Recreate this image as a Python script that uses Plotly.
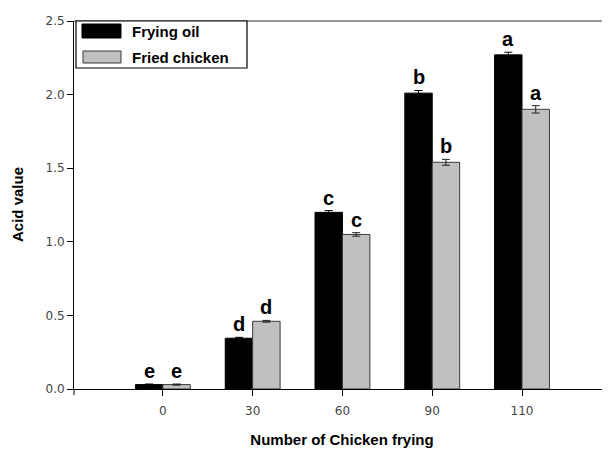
import plotly.graph_objects as go

categories = ["0", "30", "60", "90", "110"]
frying_oil = [0.03, 0.345, 1.20, 2.01, 2.27]
frying_oil_err = [0.004, 0.006, 0.012, 0.018, 0.018]
fried_chicken = [0.03, 0.46, 1.05, 1.54, 1.90]
fried_chicken_err = [0.004, 0.006, 0.012, 0.02, 0.025]
oil_letters = ["e", "d", "c", "b", "a"]
chicken_letters = ["e", "d", "c", "b", "a"]
y_ticks = [0.0, 0.5, 1.0, 1.5, 2.0, 2.5]
y_tick_labels = ["0.0", "0.5", "1.0", "1.5", "2.0", "2.5"]

# page body has an 8px margin; compensate so the plot area lands at page x 74..610, y 21..389
OFF = 8
W, H = 610 - OFF, 450 - OFF
L, R, T, B = 74 - OFF, 0, 21 - OFF, 61
pw, ph = W - L - R, H - T - B

fig = go.Figure()
fig.add_trace(go.Bar(
    x=categories, y=frying_oil, name="Frying oil",
    marker=dict(color="black", line=dict(color="black", width=1)),
    error_y=dict(type="data", array=frying_oil_err, color="black", thickness=1, width=4),
))
fig.add_trace(go.Bar(
    x=categories, y=fried_chicken, name="Fried chicken",
    marker=dict(color="#C0C0C0", line=dict(color="#3a3a3a", width=1)),
    error_y=dict(type="data", array=fried_chicken_err, color="#222", thickness=1, width=4),
))

bar_px = pw / 5.97 * (1 - 0.389) / 2
letter_font = dict(family="Liberation Sans", size=20, color="black", weight="bold")
annotations = []
for i, c in enumerate(categories):
    annotations.append(dict(x=i, y=frying_oil[i] + frying_oil_err[i], text=oil_letters[i],
                            xref="x", yref="y", showarrow=False, yanchor="bottom",
                            xshift=-bar_px / 2, yshift=0, font=letter_font))
    annotations.append(dict(x=i, y=fried_chicken[i] + fried_chicken_err[i], text=chicken_letters[i],
                            xref="x", yref="y", showarrow=False, yanchor="bottom",
                            xshift=bar_px / 2, yshift=0, font=letter_font))

def px_x(p):
    return (p - OFF - L) / pw

def px_y(p):
    return (OFF + H - B - p) / ph

shapes = [
    dict(type="line", xref="paper", yref="paper", x0=0, x1=1, y0=1, y1=1,
         line=dict(color="#333", width=1.2), layer="above"),
    dict(type="line", xref="paper", yref="paper", x0=0, x1=0, y0=0, y1=px_y(395),
         line=dict(color="black", width=1), layer="above"),
    dict(type="rect", xref="paper", yref="paper", x0=px_x(76), x1=px_x(247), y0=px_y(68), y1=px_y(21),
         line=dict(color="black", width=1.2), fillcolor="white", layer="above"),
    dict(type="rect", xref="paper", yref="paper", x0=px_x(82), x1=px_x(121), y0=px_y(38), y1=px_y(24),
         line=dict(color="black", width=1), fillcolor="black", layer="above"),
    dict(type="rect", xref="paper", yref="paper", x0=px_x(83), x1=px_x(121), y0=px_y(63), y1=px_y(51),
         line=dict(color="#3a3a3a", width=1), fillcolor="#C0C0C0", layer="above"),
]
legend_font = dict(family="Liberation Sans", size=15, color="black", weight="bold")
annotations.append(dict(x=px_x(130), y=px_y(32), xref="paper", yref="paper", text="Frying oil",
                        showarrow=False, xanchor="left", yanchor="middle", font=legend_font))
annotations.append(dict(x=px_x(130), y=px_y(57), xref="paper", yref="paper", text="Fried chicken",
                        showarrow=False, xanchor="left", yanchor="middle", font=legend_font))
annotations.append(dict(x=px_x(17), y=px_y(205), xref="paper", yref="paper", text="Acid value",
                        showarrow=False, textangle=-90, xanchor="center", yanchor="middle",
                        font=dict(family="Liberation Sans", size=15, color="black", weight="bold")))

fig.update_layout(
    width=W, height=H,
    margin=dict(l=L, r=R, t=T, b=B),
    paper_bgcolor="white", plot_bgcolor="white",
    barmode="group", bargap=0.389, bargroupgap=0,
    showlegend=False,
    shapes=shapes,
    annotations=annotations,
    font=dict(family="Liberation Sans"),
)
fig.update_xaxes(
    type="category", range=[-0.99, 4.98],
    showline=True, linecolor="black", linewidth=1,
    ticks="outside", ticklen=6, tickcolor="black", ticklabelstandoff=5,
    tickfont=dict(family="DejaVu Sans", size=12, color="#444"),
    showgrid=False, zeroline=False,
    title=dict(text="Number of Chicken frying", standoff=17,
               font=dict(family="Liberation Sans", size=15, color="black", weight="bold")),
)
fig.update_yaxes(
    range=[0, 2.5], tickvals=y_ticks, ticktext=y_tick_labels,
    showline=True, linecolor="black", linewidth=1,
    ticks="outside", ticklen=6, tickcolor="black",
    tickfont=dict(family="DejaVu Sans", size=12, color="#444"),
    showgrid=False, zeroline=False,
)

fig.write_html("out.html")
